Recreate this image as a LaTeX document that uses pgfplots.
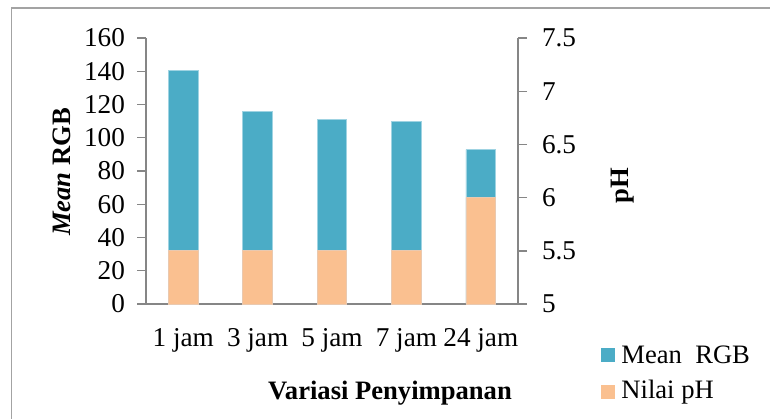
\documentclass[border=0pt]{standalone}
\usepackage{pgfplots}
\pgfplotsset{compat=1.18}
\usepackage{pgfplotstable}
\usepackage{fontspec}
\setmainfont{Liberation Serif}

\definecolor{rgbblue}{HTML}{4BACC6}
\definecolor{rgbedge}{HTML}{9FD3E2}
\definecolor{phorange}{HTML}{FAC090}
\definecolor{phedge}{HTML}{E9C9B0}
\definecolor{axisgray}{HTML}{868686}
\definecolor{framegray}{HTML}{A3A3A3}

% storage time index, mean RGB value, pH
\pgfplotstableread{
idx rgb ph
0 140.6 5.5
1 115.7 5.5
2 110.9 5.5
3 109.9 5.5
4 92.8 6.0
}\datatable

\begin{document}
\begin{tikzpicture}[x=1pt,y=1pt]
\useasboundingbox (0,0) rectangle (385,209);
\draw[framegray, line width=0.8pt] (5.8,-2) -- (5.8,205) -- (390,205);

\pgfplotsset{
  common/.style={
    scale only axis, width=186pt, height=133pt,
    at={(73pt,57pt)}, anchor=south west,
    xmin=-0.5, xmax=4.5,
    axis line style={axisgray, line width=0.7pt},
    tick style={axisgray, line width=0.7pt},
    tick align=outside, major tick length=4.5pt,
    ticklabel style={font=\fontsize{13.6}{16}\selectfont},
    /pgf/number format/assume math mode=true,
  }
}

% Mean RGB on the left axis
\begin{axis}[common,
    ymin=0, ymax=160, ytick={0,20,40,60,80,100,120,140,160},
    axis y line*=left, axis x line*=bottom,
    yticklabel style={xshift=-2.5pt},
    xtick={0,1,2,3,4},
    xticklabels={1 jam,3 jam,5 jam,7 jam,24 jam},
    xticklabel style={yshift=-4pt},
    x tick style={draw=none},
  ]
\addplot[ybar, bar width=0.4, fill=rgbblue, draw=rgbedge, line width=0.4pt]
  table[x=idx, y=rgb]{\datatable};
\end{axis}

% pH on the right axis
\begin{axis}[common,
    ymin=5, ymax=7.5, ytick={5,5.5,6,6.5,7,7.5},
    yticklabels={5,5.5,6,6.5,7,7.5},
    yticklabel style={xshift=4pt},
    axis y line*=right, axis x line=none,
  ]
\addplot[ybar, bar width=0.4, fill=phorange, draw=phedge, line width=0.4pt]
  table[x=idx, y=ph]{\datatable};
\end{axis}

% axis titles
\node[rotate=90, font=\fontsize{13.3}{15}\selectfont\bfseries] at (31,123) {\textit{Mean} RGB};
\node[rotate=90, font=\fontsize{13.3}{15}\selectfont\bfseries] at (311.5,116) {pH};
\node[font=\fontsize{13.3}{15}\selectfont\bfseries] at (195,12.5) {Variasi Penyimpanan};

% legend
\fill[rgbblue] (300.5,28) rectangle (307.5,35);
\node[anchor=west, inner sep=0pt, font=\fontsize{13.3}{15}\selectfont] at (310.5,31.5) {Mean\ \ RGB};
\fill[phorange] (300.5,9.5) rectangle (307.5,16.5);
\node[anchor=west, inner sep=0pt, font=\fontsize{13.3}{15}\selectfont] at (310.5,13) {Nilai pH};
\end{tikzpicture}
\end{document}
